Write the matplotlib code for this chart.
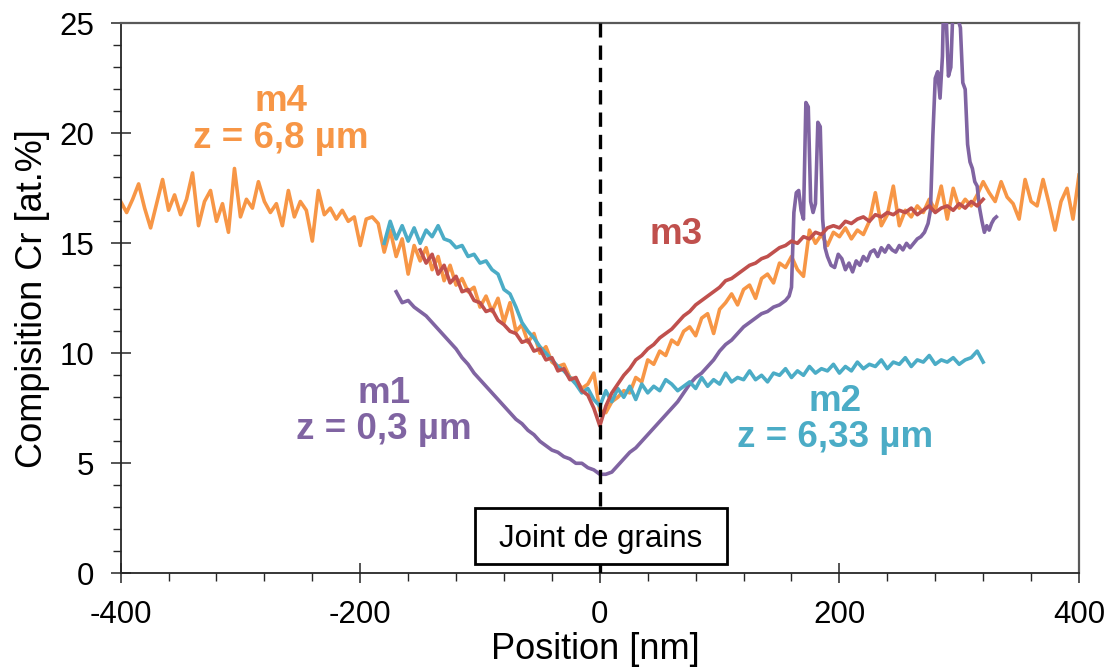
import numpy as np
import matplotlib.pyplot as plt
from matplotlib.patches import Rectangle
from matplotlib.ticker import MultipleLocator

plt.rcParams['font.family'] = ['Liberation Sans', 'DejaVu Sans']
plt.rcParams['axes.unicode_minus'] = False

# m4 (z = 6,8 um), every 5 nm from -400 to 400
m4_x = np.arange(-400, 401, 5)
m4_y = [16.9, 16.4, 17.0, 17.7, 16.6, 15.7, 16.8, 17.9, 16.5, 17.2,
        16.3, 17.0, 18.2, 15.8, 16.9, 17.4, 16.0, 16.8, 15.5, 18.4,
        16.2, 17.0, 16.6, 17.8, 16.9, 16.4, 16.8, 15.8, 17.4, 16.2,
        16.9, 16.5, 15.1, 17.4, 16.3, 16.6, 16.1, 16.5, 16.0, 16.2,
        14.9,
        16.1, 16.2, 15.9, 14.6, 15.6, 14.4, 15.2, 13.6, 14.9, 14.2,
        14.8, 13.8, 14.4, 13.3, 14.0, 13.1, 13.4, 12.8, 13.0, 12.1,
        12.6, 11.9, 12.5, 11.4, 12.3, 11.0, 11.3, 10.5, 10.9, 10.0,
        10.3, 9.6, 9.4, 9.5, 8.9, 8.8, 8.4, 8.6, 9.1, 7.4,
        7.3, 7.8, 8.0, 8.3, 8.2, 8.9, 8.7, 9.7, 9.5, 10.1,
        9.9, 10.6, 10.4, 11.0, 11.2, 10.8, 11.6, 11.8, 10.9, 12.0,
        12.3, 12.7, 12.2, 12.9, 13.1, 12.5, 13.4, 13.6, 13.2, 14.1,
        13.9, 14.4, 13.8, 13.5, 15.6, 15.0, 15.4, 14.9, 15.5, 15.3,
        15.7, 15.2, 15.6, 15.4, 16.0, 17.3, 15.8, 16.3, 17.6, 15.8,
        16.5, 16.2, 16.7, 16.4, 17.0, 16.5, 17.6, 16.1, 17.5, 16.6,
        17.0, 16.7, 17.2, 17.8, 17.3, 16.9, 17.8, 17.1, 16.8, 16.1,
        17.9, 16.9, 16.7, 17.9, 16.8, 15.6, 16.9, 17.5, 16.1, 18.1]

# m3, every 5 nm from -150 to 320
m3_x = np.arange(-150, 321, 5)
m3_y = [14.7, 14.1, 14.5, 13.6, 14.0, 13.2, 13.5, 12.8, 12.9, 12.4,
        12.3, 11.9, 12.0, 11.5, 11.3, 11.0, 10.9, 10.5, 10.6, 10.1,
        10.2, 9.7, 9.8, 9.2, 9.3, 8.8, 8.9, 8.3, 8.1, 7.5,
        6.7,
        7.6, 8.2, 8.6, 9.0, 9.3, 9.7, 9.9, 10.2, 10.4, 10.7,
        10.9, 11.1, 11.4, 11.7, 11.9, 12.2, 12.4, 12.6, 12.8, 13.0,
        13.3, 13.4, 13.6, 13.8, 14.0, 14.1, 14.3, 14.4, 14.6, 14.8,
        14.9, 15.1, 15.0, 15.3, 15.2, 15.5, 15.4, 15.7, 15.8, 15.7,
        16.0, 15.9, 16.1, 16.2, 16.0, 16.3, 16.2, 16.4, 16.3, 16.5,
        16.4, 16.6, 16.3, 16.5, 16.7, 16.4, 16.6, 16.7, 16.5, 16.8,
        16.6, 16.9, 16.7, 17.0]

# m2 (z = 6,33 um), every 5 nm from -180 to 320
m2_x = np.arange(-180, 321, 5)
m2_y = [15.0, 16.0, 15.2, 15.8, 15.1, 15.7, 15.0, 15.6, 15.3, 15.8,
        15.2, 15.1, 14.8, 14.9, 14.4, 14.5, 14.1, 14.2, 13.8, 13.6,
        12.9, 12.7, 12.1, 11.4, 11.0, 10.7, 10.3, 10.0, 9.7, 9.4,
        9.2, 8.9, 8.6, 8.2, 8.4, 7.9, 7.6,
        8.3, 7.8, 8.4, 8.0, 8.5, 7.9, 8.6, 8.2, 8.5, 8.3,
        8.8, 8.6, 8.3, 8.5, 8.7, 8.4, 8.9, 8.5, 8.8, 8.6,
        9.1, 8.7, 8.9, 8.8, 9.2, 8.8, 9.0, 8.7, 9.1, 9.0,
        9.3, 8.9, 9.2, 9.0, 9.4, 9.1, 9.3, 9.2, 9.5, 9.1,
        9.4, 9.2, 9.6, 9.3, 9.5, 9.4, 9.7, 9.3, 9.6, 9.5,
        9.8, 9.4, 9.7, 9.6, 9.9, 9.5, 9.7, 9.6, 9.8, 9.5,
        9.7, 9.8, 10.1, 9.6]

# m1 (z = 0,3 um): smooth part every 5 nm, then the peaks
m1_x = list(np.arange(-170, 156, 5)) + [
    158, 160, 162, 164, 166, 168, 170, 172, 174, 176,
    178, 180, 182, 184, 186, 188, 190, 193, 196, 199,
    202, 205, 208, 211, 214, 217, 220, 223, 226, 229,
    232, 235, 238, 241, 244, 247, 250, 253, 256, 259,
    262, 265, 268, 271, 274, 276, 278, 280, 282, 284,
    286, 287, 289, 291, 293, 295, 297, 299, 301, 303,
    305, 307, 309, 311, 313, 315, 317, 319, 321, 323,
    325, 327, 329, 331]
m1_y = [12.8, 12.3, 12.4, 12.1, 11.9, 11.7, 11.4, 11.1, 10.8, 10.5,
        10.2, 9.8, 9.5, 9.1, 8.8, 8.5, 8.2, 7.9, 7.6, 7.3,
        7.0, 6.8, 6.5, 6.3, 6.0, 5.8, 5.6, 5.5, 5.3, 5.2,
        5.0, 5.0, 4.8, 4.7, 4.5, 4.5, 4.6, 4.9, 5.2, 5.5,
        5.7, 6.0, 6.3, 6.6, 6.9, 7.2, 7.5, 7.8, 8.2, 8.6,
        8.9, 9.1, 9.4, 9.7, 10.1, 10.4, 10.6, 10.9, 11.2, 11.4,
        11.6, 11.8, 11.9, 12.1, 12.2, 12.4,
        12.6, 13.0, 16.4, 17.3, 17.4, 16.5, 16.1, 21.4, 21.2, 16.9,
        16.4, 16.8, 20.5, 20.3, 16.1, 14.8, 14.4, 14.0, 13.9, 14.5,
        14.3, 13.8, 14.1, 13.7, 14.2, 14.0, 14.4, 14.2, 14.6, 14.7,
        14.4, 14.8, 14.6, 14.9, 14.7, 14.6, 14.9, 14.7, 15.0, 14.8,
        15.0, 15.2, 15.3, 15.5, 15.9, 16.5, 19.9, 22.5, 22.8, 21.6,
        23.5, 26.0, 25.5, 22.6, 23.0, 26.0, 25.8, 25.2, 24.8, 22.3,
        22.0, 19.5, 18.7, 18.4, 17.8, 17.6, 16.6, 16.0, 15.5, 15.8,
        15.6, 15.9, 16.1, 16.2]

c_m4 = '#F79646'
c_m3 = '#C0504D'
c_m2 = '#4BACC6'
c_m1 = '#8064A2'

fig = plt.figure(figsize=(11.11, 6.68), dpi=100)
ax = fig.add_axes([0.1086, 0.1418, 0.8626, 0.8233])

lw = 2.6
ax.plot(m4_x, m4_y, color=c_m4, lw=lw, zorder=2)
ax.plot(m1_x, m1_y, color=c_m1, lw=lw, zorder=3)
ax.plot(m2_x, m2_y, color=c_m2, lw=lw, zorder=4)
ax.plot(m3_x, m3_y, color=c_m3, lw=lw, zorder=5)

ax.axvline(0, color='black', lw=2.4, ls=(0, (4.3, 2.4)), zorder=6)

ax.set_xlim(-400, 400)
ax.set_ylim(0, 25)
ax.set_xticks([-400, -200, 0, 200, 400])
ax.set_yticks([0, 5, 10, 15, 20, 25])
ax.xaxis.set_minor_locator(MultipleLocator(40))
ax.yaxis.set_minor_locator(MultipleLocator(1))
ax.tick_params(which='major', direction='inout', length=14.5, width=1.1,
               labelsize=22.5, pad=12, color='#262626')
ax.tick_params(which='minor', direction='out', length=6, width=1.0,
               color='#262626')

for s in ['left', 'bottom']:
    ax.spines[s].set_color('#262626')
    ax.spines[s].set_linewidth(1.3)
for s in ['top', 'right']:
    ax.spines[s].set_color('#595959')
    ax.spines[s].set_linewidth(1.6)

ax.set_xlabel('Position [nm]', fontsize=26)
ax.set_ylabel('Compisition Cr [at.%]', fontsize=26)
ax.xaxis.set_label_coords(0.495, -0.106)
ax.yaxis.set_label_coords(-0.074, 0.5)

kw = dict(fontsize=26.5, fontweight='bold', ha='center', va='center',
          multialignment='center', linespacing=1.05, zorder=7)
ax.text(-266, 20.6, 'm4\nz = 6,8 µm', color=c_m4, **kw)
ax.text(64, 15.4, 'm3', color=c_m3, **kw)
ax.text(-180, 7.35, 'm1\nz = 0,3 µm', color=c_m1, **kw)
ax.text(196, 7.0, 'm2\nz = 6,33 µm', color=c_m2, **kw)

ax.add_patch(Rectangle((-103.9, 0.42), 210.3, 2.55, facecolor='white',
                       edgecolor='black', lw=2.0, zorder=8))
ax.text(1, 1.21, 'Joint de grains', fontsize=22.5, ha='center',
        va='baseline', zorder=9)

fig.savefig('out.png', dpi=100)
